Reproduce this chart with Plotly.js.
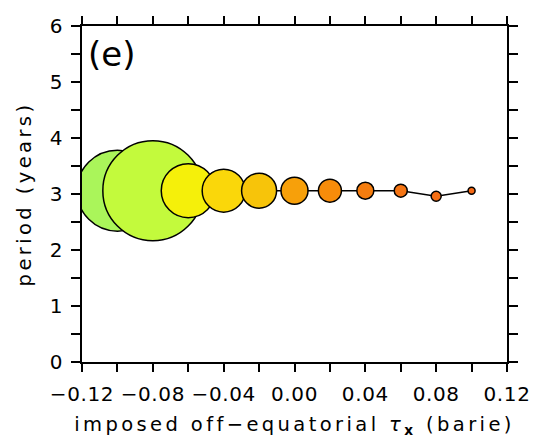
<!DOCTYPE html>
<html>
<head>
<meta charset="utf-8">
<script src="https://cdn.plot.ly/plotly-3.0.1.min.js"></script>
<style>
  html, body { margin: 0; padding: 0; background: #fff; }
  #chart { width: 541px; height: 446px; }
  .xtitle, .ytitle { letter-spacing: 3.4px; }
  .xtick text, .ytick text { letter-spacing: 0.6px; }
</style>
</head>
<body>
<div id="chart"></div>
<script>
// Data
const tauX = [-0.10, -0.08, -0.06, -0.04, -0.02, 0.00, 0.02, 0.04, 0.06, 0.08, 0.10];
const periodYears = [3.06, 3.06, 3.06, 3.06, 3.06, 3.06, 3.06, 3.06, 3.06, 2.96, 3.06];
const amplitudeSize = [81, 100, 54, 43, 35, 27, 23, 17, 13, 10, 7];
const markerColors = ['#aaf55a', '#c3fa3c', '#f5f00a', '#fad70a', '#f7c40a', '#f7a00a',
                      '#f78c0a', '#f57d0f', '#f57514', '#f56e14', '#f56914'];

const xTickVals = [-0.12, -0.08, -0.04, 0.00, 0.04, 0.08, 0.12];
const xTickText = ['\u22120.12', '\u22120.08', '\u22120.04', '0.00', '0.04', '0.08', '0.12'];
const xMinorVals = [-0.10, -0.06, -0.02, 0.02, 0.06, 0.10];
const yTickVals = [0, 1, 2, 3, 4, 5, 6];
const yTickText = ['0', '1', '2', '3', '4', '5', '6'];
const yMinorVals = [0.5, 1.5, 2.5, 3.5, 4.5, 5.5];

const font = { family: 'DejaVu Sans, sans-serif', color: '#000' };

const trace = {
  type: 'scatter',
  mode: 'lines+markers',
  x: tauX,
  y: periodYears,
  line: { color: '#000', width: 1.5 },
  marker: {
    size: amplitudeSize,
    sizemode: 'diameter',
    color: markerColors,
    opacity: 1,
    line: { color: '#000', width: 1.5 }
  },
  cliponaxis: true,
  hoverinfo: 'none'
};

const layout = {
  width: 541,
  height: 446,
  margin: { l: 82, r: 34, t: 26, b: 84 },
  paper_bgcolor: '#fff',
  plot_bgcolor: '#fff',
  showlegend: false,
  font: Object.assign({ size: 20 }, font),
  xaxis: {
    range: [-0.12, 0.12],
    tickmode: 'array',
    tickvals: xTickVals,
    ticktext: xTickText,
    ticks: 'outside',
    ticklen: 8,
    tickwidth: 2,
    tickcolor: '#000',
    ticklabelstandoff: 5,
    minor: { tickmode: 'array', tickvals: xMinorVals, ticks: 'outside', ticklen: 8, tickwidth: 2, tickcolor: '#000', showgrid: false },
    showline: true,
    linewidth: 2,
    linecolor: '#000',
    mirror: 'ticks',
    showgrid: false,
    zeroline: false,
    tickfont: Object.assign({ size: 20 }, font),
    title: {
      text: 'imposed off\u2212equatorial <i>\u03c4</i><sub><b>x</b></sub> (barie)',
      font: Object.assign({ size: 19.5 }, font),
      standoff: 12
    }
  },
  yaxis: {
    range: [0, 6],
    tickmode: 'array',
    tickvals: yTickVals,
    ticktext: yTickText,
    ticks: 'outside',
    ticklen: 9,
    tickwidth: 2,
    tickcolor: '#000',
    ticklabelstandoff: 4,
    minor: { tickmode: 'array', tickvals: yMinorVals, ticks: 'outside', ticklen: 9, tickwidth: 2, tickcolor: '#000', showgrid: false },
    showline: true,
    linewidth: 2,
    linecolor: '#000',
    mirror: 'ticks',
    showgrid: false,
    zeroline: false,
    tickfont: Object.assign({ size: 20 }, font),
    title: {
      text: 'period (years)',
      font: Object.assign({ size: 19.5 }, font),
      standoff: 13
    }
  },
  annotations: [{
    text: '(e)',
    xref: 'paper', yref: 'paper',
    x: 0, y: 1,
    xanchor: 'left', yanchor: 'top',
    xshift: 4, yshift: -6,
    showarrow: false,
    font: Object.assign({ size: 34 }, font)
  }]
};

Plotly.newPlot('chart', [trace], layout, { staticPlot: true, displayModeBar: false });
</script>
</body>
</html>
